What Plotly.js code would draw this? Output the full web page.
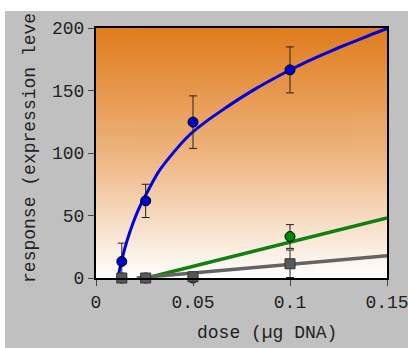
<!DOCTYPE html>
<html>
<head>
<meta charset="utf-8">
<script src="https://cdn.plot.ly/plotly-3.0.1.min.js"></script>
<style>
html,body{margin:0;padding:0;background:#ffffff;width:408px;height:348px;overflow:hidden;}
#chart{position:absolute;left:5px;top:11px;width:403px;height:337px;}
</style>
</head>
<body>
<div id="chart"></div>
<script>
// measured doses (µg DNA)
const doses = [0.0133, 0.0256, 0.05, 0.1];
// blue series (means and error)
const blueY = [13.2, 61.7, 124.7, 166.5];
const blueErr = [14.7, 13.3, 21.0, 18.4];
// green series
const greenY = [0, 0, 0, 33.2];
const greenErr = [0, 0, 0, 9.5];
// gray series
const grayY = [0, 0, 1, 11.4];
const grayErr = [0, 0, 0, 11.0];
// blue fitted curve
const blueCurveX = [0.01126, 0.01331, 0.01669, 0.02181, 0.02611, 0.03205, 0.0400, 0.0483, 0.0570, 0.0653, 0.0740, 0.0824, 0.0910, 0.0995, 0.1080, 0.1165, 0.1250, 0.1336, 0.1420, 0.15];
const blueCurveY = [0, 14.6, 33.2, 54.5, 67.8, 84.5, 100.5, 114.6, 125.5, 134.5, 143.5, 151.5, 159.0, 166.0, 172.5, 178.5, 184.2, 189.5, 194.8, 199.5];
// green fitted line
const greenLineX = [0.026, 0.15];
const greenLineY = [0, 48];
// gray fitted line
const grayLineX = [0.021, 0.15];
const grayLineY = [0, 17.8];
// axis ticks
const xTickVals = [0, 0.05, 0.1, 0.15];
const xTickText = ['0', '0.05', '0.1', '0.15'];
const yTickVals = [0, 50, 100, 150, 200];

const FONT = '"Liberation Mono", "Courier New", monospace';

// background gradient image
const cv = document.createElement('canvas');
cv.width = 4; cv.height = 256;
const ctx = cv.getContext('2d');
const g = ctx.createLinearGradient(0, 0, 0, 256);
g.addColorStop(0, '#e07c1c');
g.addColorStop(0.5, '#eeb47e');
g.addColorStop(1, '#ffffff');
ctx.fillStyle = g;
ctx.fillRect(0, 0, 4, 256);
const gradURL = cv.toDataURL('image/png');

const errStyle = (arr) => ({type: 'data', array: arr, visible: true, color: '#222', thickness: 1, width: 4});

const traces = [
  {x: blueCurveX, y: blueCurveY, mode: 'lines', line: {color: '#0000e0', width: 3, shape: 'spline', smoothing: 0.6}, hoverinfo: 'skip'},
  {x: greenLineX, y: greenLineY, mode: 'lines', line: {color: '#108010', width: 3.5}, hoverinfo: 'skip'},
  {x: grayLineX, y: grayLineY, mode: 'lines', line: {color: '#646464', width: 3.5}, hoverinfo: 'skip'},
  {x: doses, y: greenY, mode: 'markers', error_y: errStyle(greenErr), cliponaxis: false,
   marker: {symbol: 'circle', size: 10, color: '#008800', line: {color: '#000', width: 1}}},
  {x: doses, y: blueY, mode: 'markers', error_y: errStyle(blueErr), cliponaxis: false,
   marker: {symbol: 'circle', size: 10, color: '#0000cc', line: {color: '#000', width: 1}}},
  {x: doses, y: grayY, mode: 'markers', error_y: errStyle(grayErr), cliponaxis: false,
   marker: {symbol: 'square', size: 10, color: '#585858', line: {color: '#333', width: 1}}}
];

const axisCommon = {
  showgrid: false, zeroline: false, showline: true, mirror: true,
  linecolor: '#000', linewidth: 2, ticks: 'outside', ticklen: 6, tickwidth: 1, tickcolor: '#444',
  ticklabeloverflow: 'allow',
  tickfont: {family: FONT, size: 18, color: '#222'}
};

const layout = {
  width: 403, height: 337,
  margin: {l: 91, r: 21, t: 17, b: 70},
  paper_bgcolor: '#c0c0c0',
  plot_bgcolor: 'rgba(0,0,0,0)',
  showlegend: false,
  xaxis: Object.assign({}, axisCommon, {range: [0, 0.15], tickmode: 'array', tickvals: xTickVals, ticktext: xTickText}),
  yaxis: Object.assign({}, axisCommon, {range: [0, 200], tickmode: 'array', tickvals: yTickVals}),
  images: [{source: gradURL, xref: 'paper', yref: 'paper', x: 0, y: 1, sizex: 1, sizey: 1,
            xanchor: 'left', yanchor: 'top', sizing: 'stretch', layer: 'below'}],
  annotations: [
    {text: 'dose (µg DNA)', xref: 'paper', yref: 'paper', x: 0.589, y: -0.22, xanchor: 'center', yanchor: 'middle',
     showarrow: false, font: {family: FONT, size: 18, color: '#222'}},
    {text: 'response (expression level)', textangle: -90, xref: 'paper', yref: 'paper', x: -0.227, y: 0.564,
     xanchor: 'center', yanchor: 'middle', showarrow: false, font: {family: FONT, size: 18, color: '#222'}}
  ]
};

Plotly.newPlot('chart', traces, layout, {displayModeBar: false, staticPlot: true});
</script>
</body>
</html>
